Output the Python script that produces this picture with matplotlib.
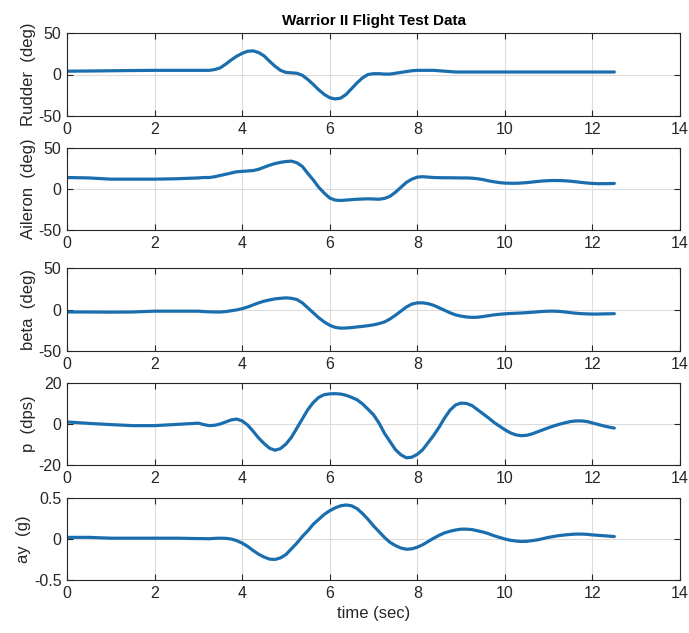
import numpy as np
import matplotlib
matplotlib.use("Agg")
import matplotlib.pyplot as plt

plt.rcParams['font.family'] = ['Liberation Sans', 'DejaVu Sans']

# sample times (s): coarse during the quiet start, finer afterwards
time = [0, 0.5, 1.0, 1.5, 2.0, 2.5, 3.0] + [3.125 + 0.125 * k for k in range(76)]

rudder = [4, 4.2, 4.5, 4.8, 5, 5, 5,
          5, 5, 6, 8, 12.5, 17.5, 22, 25.5,
          28, 28.5, 26.5, 22.5, 16, 10, 5, 2.5,
          2, 1.5, -1, -6, -12, -18.5, -24, -28,
          -29.5, -28.5, -24, -17, -10, -4, 0, 1,
          1, 0.5, 0.5, 1.5, 2.5, 3.5, 4.5, 5,
          5, 5, 5, 4.5, 4, 3.5, 3, 3,
          3, 3, 3, 3, 3, 3, 3, 3, 3, 3, 3, 3, 3, 3,
          3, 3, 3, 3, 3, 3, 3, 3, 3, 3, 3, 3, 3, 3]

aileron = [14, 13.5, 12, 12, 12, 12.5, 13.5,
           14, 14, 15, 16.5, 18, 19.5, 21, 21.5,
           22, 22.5, 24, 26.5, 29, 31, 32.5, 33.5,
           34, 32, 27.5, 19, 11, 2, -5, -11,
           -13.5, -14, -13.5, -13, -12.5, -12.2, -12, -12.2,
           -12.5, -11.5, -9, -4, 2, 8, 12, 14.5,
           15, 14.5, 14, 13.8, 13.7, 13.7, 13.6, 13.5,
           13.5, 13.2, 12.5, 11.5, 10, 8.8, 7.8, 7.2, 7, 7, 7.3, 7.8, 8.5, 9.2,
           9.8, 10.2, 10.4, 10.3, 10, 9.5, 8.8, 8, 7.3, 6.8, 6.5, 6.5, 6.6, 6.8]

beta = [-3, -3, -3.2, -3, -2, -2, -2,
        -2.5, -2.8, -3, -3, -2.5, -1.5, -0.5, 1,
        3, 5.5, 8, 10, 11.5, 12.8, 13.5, 14,
        13.5, 12, 8, 2, -4, -10, -15, -19,
        -21.5, -22.5, -22.3, -21.8, -21, -20.3, -19.5, -18.5,
        -17, -15, -11.5, -7, -2, 3, 6.5, 8,
        8, 7, 5, 2, -1, -4, -6.5, -8,
        -9, -9.5, -9.3, -8.5, -7.5, -6.5, -5.8, -5.2, -4.8, -4.5, -4.2, -3.8, -3.3, -2.8,
        -2.3, -2, -2, -2.3, -3, -3.8, -4.5, -5, -5.3, -5.5, -5.5, -5.3, -5.2, -5]

p = [1, 0.3, -0.3, -0.8, -0.8, -0.2, 0.4,
     -0.3, -0.8, -0.6, 0, 1, 2, 2.4, 1.5,
     -0.5, -3.5, -6.8, -9.5, -11.8, -12.8, -12, -9.8,
     -6.5, -2, 2.5, 7, 10.5, 13, 14.3, 14.7,
     14.8, 14.6, 14, 13, 11.8, 9.8, 7.2, 4.5,
     0.5, -4.5, -8.5, -12.5, -15, -16.5, -16.2, -14.8,
     -12.5, -9, -5.5, -1.5, 3, 6.8, 9.3, 10.2,
     10, 9, 7, 5, 3, 0.8, -1, -2.8, -4.3, -5.3, -5.7, -5.5, -4.8, -3.8,
     -2.8, -1.8, -0.9, -0.1, 0.6, 1.2, 1.5, 1.5, 1.2, 0.5, -0.2, -0.9, -1.5, -2]

ay = [0.02, 0.02, 0.01, 0.01, 0.01, 0.01, 0.005,
      0.005, 0.003, 0.008, 0.01, 0.008, 0, -0.02, -0.05,
      -0.09, -0.14, -0.185, -0.22, -0.245, -0.25, -0.23, -0.19,
      -0.12, -0.05, 0.03, 0.1, 0.18, 0.24, 0.3, 0.345,
      0.38, 0.405, 0.415, 0.405, 0.37, 0.31, 0.24, 0.16,
      0.09, 0.02, -0.04, -0.08, -0.11, -0.125, -0.12, -0.1,
      -0.07, -0.03, 0.01, 0.045, 0.075, 0.095, 0.11, 0.12,
      0.12, 0.115, 0.1, 0.085, 0.065, 0.04, 0.02, 0.0, -0.015, -0.025, -0.03, -0.028, -0.02, -0.01,
      0.005, 0.02, 0.032, 0.042, 0.05, 0.056, 0.06, 0.06, 0.057, 0.05, 0.045, 0.04, 0.035, 0.03]

series = [rudder, aileron, beta, p, ay]
ylabels = ['Rudder  (deg)', 'Aileron  (deg)', 'beta  (deg)', 'p  (dps)', 'ay  (g)']
ylims = [(-50, 50), (-50, 50), (-50, 50), (-20, 20), (-0.5, 0.5)]
yticks = [[-50, 0, 50], [-50, 0, 50], [-50, 0, 50], [-20, 0, 20], [-0.5, 0, 0.5]]
xticks = [0, 2, 4, 6, 8, 10, 12, 14]

W, H = 689, 633
fig = plt.figure(figsize=(W / 100, H / 100), dpi=100)
tops = [33, 148, 268, 383, 498]
bottoms = [116, 230, 351, 465, 580]
left, right = 67, 680
color = '#1b6eae'

for i in range(5):
    ax = fig.add_axes([left / W, 1 - bottoms[i] / H, (right - left) / W, (bottoms[i] - tops[i]) / H])
    ax.plot(time, series[i], color=color, linewidth=2.3,
            solid_joinstyle='round', solid_capstyle='round')
    ax.set_xlim(0, 14)
    ax.set_ylim(*ylims[i])
    ax.set_xticks(xticks)
    ax.set_yticks(yticks[i])
    ax.set_yticklabels([f'{v:g}' for v in yticks[i]])
    ax.grid(True, color='#dcdcdc', linewidth=0.8)
    ax.set_axisbelow(True)
    ax.tick_params(direction='in', top=True, right=True, length=4, width=0.8,
                   labelsize=11.5, colors='#262626', pad=4)
    for s in ax.spines.values():
        s.set_color('#262626')
        s.set_linewidth(0.8)
    ax.set_ylabel(ylabels[i], fontsize=12, color='#262626', labelpad=2)
    if i == 0:
        ax.set_title('Warrior II Flight Test Data', fontsize=11, fontweight='bold', pad=6)
    if i == 4:
        ax.set_xlabel('time (sec)', fontsize=12, color='#262626')

fig.savefig('out.png', dpi=100)
